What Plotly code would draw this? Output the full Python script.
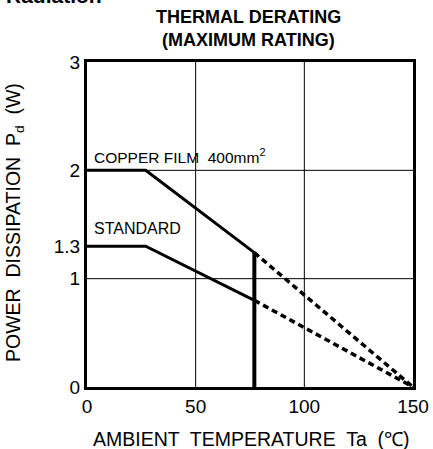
import plotly.graph_objects as go

# Data
x_ticks = [0, 50, 100, 150]
y_ticks = [0, 1, 1.3, 2, 3]
y_tick_labels = ["0", "1", "1.3", "2", "3"]
grid_x = [50, 100]
grid_y = [1, 2]

copper_x = [0, 27, 77]
copper_y = [2.0, 2.0, 1.24]
copper_dash_x = [77, 150]
copper_dash_y = [1.24, 0.0]

standard_x = [0, 27, 77]
standard_y = [1.3, 1.3, 0.80]
standard_dash_x = [77, 150]
standard_dash_y = [0.80, 0.0]

limit_x = [77, 77]
limit_y = [0.0, 1.24]

FONT = "Liberation Sans, Arial, sans-serif"
W, H = 433, 449
L, R, T, B = 87, 20, 62, 62
pw, ph = W - L - R, H - T - B


def px_x(p):
    return (p - L) / pw


def px_y(p):
    return 1 - (p - T) / ph


fig = go.Figure()
line_style = dict(color="black", width=3)
dash_style = dict(color="black", width=3.5, dash="6px,4px")

fig.add_trace(go.Scatter(x=copper_x, y=copper_y, mode="lines", line=line_style, showlegend=False))
fig.add_trace(go.Scatter(x=copper_dash_x, y=copper_dash_y, mode="lines", line=dash_style, showlegend=False))
fig.add_trace(go.Scatter(x=standard_x, y=standard_y, mode="lines", line=line_style, showlegend=False))
fig.add_trace(go.Scatter(x=standard_dash_x, y=standard_dash_y, mode="lines", line=dash_style, showlegend=False))
fig.add_trace(go.Scatter(x=limit_x, y=limit_y, mode="lines", line=dict(color="black", width=4), showlegend=False))

shapes = []
for gx in grid_x:
    shapes.append(dict(type="line", xref="x", yref="y", x0=gx, x1=gx, y0=0, y1=3,
                       line=dict(color="black", width=1), layer="below"))
for gy in grid_y:
    shapes.append(dict(type="line", xref="x", yref="y", x0=0, x1=150, y0=gy, y1=gy,
                       line=dict(color="black", width=1), layer="below"))

annotations = [
    dict(text="<b>THERMAL DERATING</b>", xref="paper", yref="paper", x=px_x(248), y=px_y(17),
         showarrow=False, font=dict(family=FONT, size=18, color="black"), xanchor="center", yanchor="middle"),
    dict(text="<b>(MAXIMUM RATING)</b>", xref="paper", yref="paper", x=px_x(248), y=px_y(40),
         showarrow=False, font=dict(family=FONT, size=18, color="black"), xanchor="center", yanchor="middle"),
    dict(text="<b>Radiation</b>", xref="paper", yref="paper", x=px_x(4), y=px_y(-5),
         showarrow=False, font=dict(family=FONT, size=21, color="black"),
         xanchor="left", yanchor="middle"),
    dict(text="COPPER FILM  400mm<sup>2</sup>", xref="x", yref="y", x=2.2, y=2.13,
         showarrow=False, font=dict(family=FONT, size=15.5, color="black"), xanchor="left", yanchor="middle"),
    dict(text="STANDARD", xref="x", yref="y", x=2.2, y=1.46,
         showarrow=False, font=dict(family=FONT, size=16, color="black"), xanchor="left", yanchor="middle"),
    dict(text="AMBIENT  TEMPERATURE  Ta  (℃)", xref="paper", yref="paper", x=px_x(251), y=px_y(439),
         showarrow=False, font=dict(family=FONT, size=19.5, color="black"), xanchor="center", yanchor="middle"),
    dict(text="POWER  DISSIPATION  P<sub>d</sub>  (W)", xref="paper", yref="paper", x=px_x(15), y=px_y(223),
         showarrow=False, textangle=-90, font=dict(family=FONT, size=19.5, color="black"),
         xanchor="center", yanchor="middle"),
]

fig.update_layout(
    width=W, height=H,
    margin=dict(l=L, r=R, t=T, b=B),
    paper_bgcolor="white", plot_bgcolor="white",
    font=dict(family=FONT, color="black"),
    shapes=shapes,
    annotations=annotations,
    xaxis=dict(range=[0, 150], tickvals=x_ticks, showgrid=False, zeroline=False, automargin=False,
               showline=True, linecolor="black", linewidth=3, mirror=True, ticks="",
               tickfont=dict(size=19, family=FONT)),
    yaxis=dict(range=[0, 3], tickvals=y_ticks, ticktext=y_tick_labels, showgrid=False, zeroline=False,
               automargin=False,
               showline=True, linecolor="black", linewidth=3, mirror=True, ticks="",
               tickfont=dict(size=19, family=FONT)),
)

fig.write_html("out.html", config={"displayModeBar": False},
               post_script="document.body.style.margin='0px';")
